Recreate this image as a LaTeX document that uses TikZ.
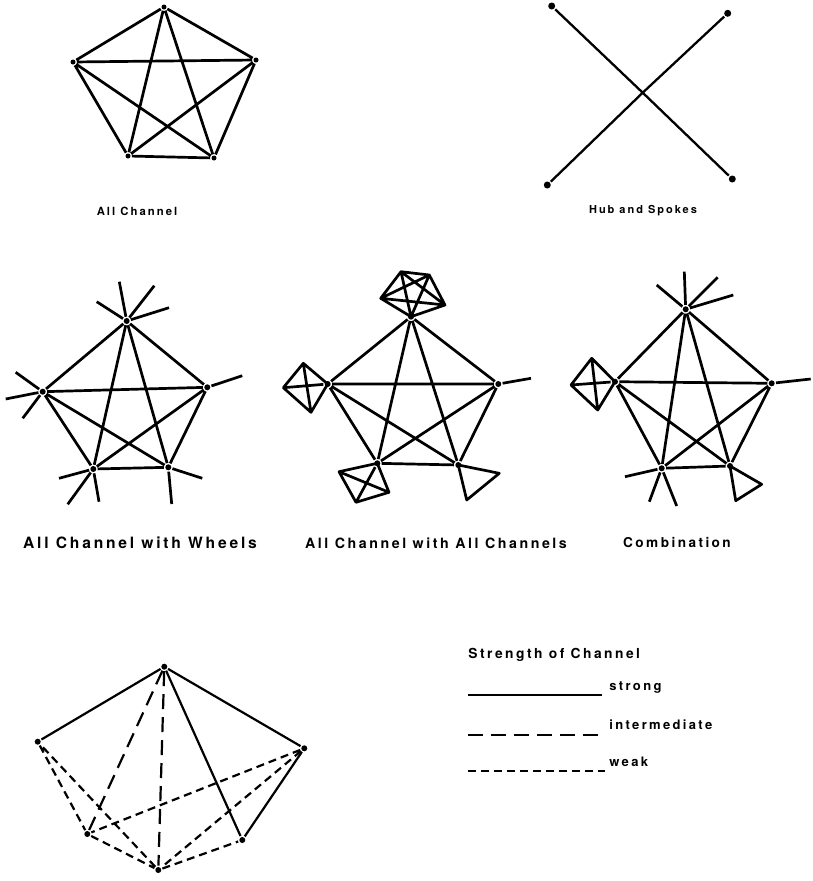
\documentclass[tikz,border=0pt]{standalone}
\usepackage{fontspec}
\setmainfont{TeX Gyre Heros}
\newfontfamily\capfont{TeX Gyre Heros}[LetterSpace=18]

\begin{document}
\begin{tikzpicture}[x=1pt,y=-1pt,line width=2.7pt,line join=round]
 \tikzset{vtx/.style={circle,fill,inner sep=0pt,minimum size=6pt},
          lbl/.style={font=\capfont\bfseries\fontsize{#1}{17}\selectfont,inner sep=0pt},
          lgd/.style={font=\capfont\bfseries\fontsize{13}{15}\selectfont,inner sep=0pt},
          strongline/.style={line width=2.2pt},
          interline/.style={line width=2.2pt,dash pattern=on 15pt off 8pt},
          weakline/.style={line width=2.2pt,dash pattern=on 8pt off 5pt}}
 \useasboundingbox (0,0) rectangle (812,881);

 % all channel
 \node[vtx,minimum size=5pt] (a1) at (164,7) {};
 \node[vtx,minimum size=5pt] (a2) at (256,60) {};
 \node[vtx,minimum size=5pt] (a3) at (214,158) {};
 \node[vtx,minimum size=5pt] (a4) at (128,156) {};
 \node[vtx,minimum size=5pt] (a5) at (73,62) {};
 \draw (a1)--(a2)--(a3)--(a4)--(a5)--(a1) (a1)--(a3)--(a5)--(a2)--(a4)--(a1);
 \node[lbl=11.3] (allch) at (137,211) {All Channel};

 % hub and spokes
 \coordinate (hub) at (642.7,92.7);
 \node[vtx,minimum size=7pt] (h1) at (551.7,6) {};
 \node[vtx,minimum size=7pt] (h2) at (727.7,13.3) {};
 \node[vtx,minimum size=7pt] (h3) at (547.3,185) {};
 \node[vtx,minimum size=7pt] (h4) at (732.3,179) {};
 \draw[line width=2.3pt] (h1)--(hub)--(h4) (h2)--(hub)--(h3);
 \node[lbl=11] (hubsp) at (643,211) {Hub and Spokes};

 % all channel with wheels
 \node[vtx] (w1) at (126.7,321) {};
 \node[vtx] (w2) at (207.3,387.3) {};
 \node[vtx] (w3) at (168.3,467.3) {};
 \node[vtx] (w4) at (93.3,469) {};
 \node[vtx] (w5) at (42.7,391.7) {};
 \draw (w1)--(w2)--(w3)--(w4)--(w5)--(w1) (w1)--(w3)--(w5)--(w2)--(w4)--(w1);
 \coordinate (ws1) at (119.3,281.7); \coordinate (ws2) at (154.3,285.7);
 \coordinate (ws3) at (169,307.7); \coordinate (ws4) at (96.7,301.7);
 \coordinate (ws5) at (15.7,372.3); \coordinate (ws6) at (5.7,399);
 \coordinate (ws7) at (22.7,418.3); \coordinate (ws8) at (242.3,375.7);
 \coordinate (ws9) at (59,478.3); \coordinate (ws10) at (67.7,504.3);
 \coordinate (ws11) at (99,501.7); \coordinate (ws12) at (202.3,478.3);
 \coordinate (ws13) at (171.7,504);
 \draw (w1)--(ws1) (w1)--(ws2) (w1)--(ws3) (w1)--(ws4);
 \draw (w5)--(ws5) (w5)--(ws6) (w5)--(ws7) (w2)--(ws8);
 \draw (w4)--(ws9) (w4)--(ws10) (w4)--(ws11) (w3)--(ws12) (w3)--(ws13);
 \node[lbl=15.6] (wheels) at (140,543) {All Channel with Wheels};

 % all channel with all channels
 \node[vtx] (c1) at (411,316.7) {};
 \node[vtx] (c2) at (498.3,384) {};
 \node[vtx] (c3) at (458.3,465) {};
 \node[vtx] (c4) at (377.3,463.3) {};
 \node[vtx] (c5) at (327.7,384) {};
 \draw (c1)--(c2)--(c3)--(c4)--(c5)--(c1) (c1)--(c3)--(c5)--(c2)--(c4)--(c1);
 \coordinate (p2) at (380.7,298.3); \coordinate (p3) at (401,271.7);
 \coordinate (p4) at (429.3,275); \coordinate (p5) at (445,305);
 \draw (c1.center)--(p2)--(p3)--(p4)--(p5)--cycle (c1.center)--(p3)--(p5)--(p2)--(p4)--cycle;
 \coordinate (q1) at (303.3,363.3); \coordinate (q2) at (283.3,387.7);
 \coordinate (q3) at (311,412.3);
 \draw (c5.center)--(q1)--(q2)--(q3)--cycle (q1)--(q3) (q2)--(c5);
 \coordinate (r1) at (339,471.7); \coordinate (r2) at (356,502.3);
 \coordinate (r3) at (389,492.3);
 \draw (c4.center)--(r1)--(r2)--(r3)--cycle (c4)--(r2) (r1)--(r3);
 \coordinate (t1) at (499.3,473.3); \coordinate (t2) at (466.7,500);
 \draw (c3.center)--(t1)--(t2)--cycle;
 \coordinate (cs1) at (531,378.3);
 \draw (c2)--(cs1);
 \node[lbl=14.2] (allall) at (436,543) {All Channel with All Channels};

 % combination
 \node[vtx] (m1) at (685.7,309.3) {};
 \node[vtx] (m2) at (771.7,383.3) {};
 \node[vtx] (m3) at (730,466) {};
 \node[vtx] (m4) at (661.7,468.3) {};
 \node[vtx] (m5) at (615,381.7) {};
 \draw (m1)--(m2)--(m3)--(m4)--(m5)--(m1) (m1)--(m3)--(m5)--(m2)--(m4)--(m1);
 \coordinate (ms1) at (684.3,271.7); \coordinate (ms2) at (717.7,277.3);
 \coordinate (ms3) at (733.3,295); \coordinate (ms4) at (656.7,285);
 \coordinate (ms5) at (810.7,379); \coordinate (ms6) at (625,476.7);
 \coordinate (ms7) at (649.3,501.7); \coordinate (ms8) at (676.7,506);
 \draw (m1)--(ms1) (m1)--(ms2) (m1)--(ms3) (m1)--(ms4) (m2)--(ms5);
 \draw (m4)--(ms6) (m4)--(ms7) (m4)--(ms8);
 \coordinate (d1) at (591.7,358.3); \coordinate (d2) at (571,385);
 \coordinate (d3) at (597.7,410);
 \draw (m5.center)--(d1)--(d2)--(d3)--cycle (d1)--(d3) (d2)--(m5);
 \coordinate (e1) at (761.7,484.3); \coordinate (e2) at (735.7,500.7);
 \draw (m3.center)--(e1)--(e2)--cycle;
 \node[lbl=13.6] (comb) at (677,543) {Combination};

 % strength of channel
 \node[vtx] (b1) at (164.3,666.7) {};
 \node[vtx] (b2) at (304.3,748.3) {};
 \node[vtx] (b3) at (242.3,840) {};
 \node[vtx] (b4) at (158.3,870) {};
 \node[vtx] (b5) at (87.3,834) {};
 \node[vtx] (b6) at (37.7,741.7) {};
 \draw[strongline] (b6)--(b1)--(b2)--(b3)--(b1);
 \draw[interline] (b1)--(b5) (b1)--(b4);
 \draw[weakline] (b6)--(b5)--(b4)--(b6) (b2)--(b5) (b2)--(b4)--(b3);

 % legend
 \node[lbl=13.8,anchor=west] (legend) at (467,655) {Strength of Channel};
 \node[lgd,anchor=base west] (strong) at (608,690) {strong};
 \node[lgd,anchor=base west] (inter) at (608,729) {intermediate};
 \node[lgd,anchor=base west] (weak) at (608,766) {weak};
 \coordinate (s0) at (468,695); \coordinate (s1) at (602,695);
 \coordinate (i0) at (468,735); \coordinate (i1) at (605,735);
 \coordinate (k0) at (468,771); \coordinate (k1) at (605,771);
 \draw[strongline] (s0)--(s1);
 \draw[interline] (i0)--(i1);
 \draw[weakline] (k0)--(k1);
\end{tikzpicture}
\end{document}
